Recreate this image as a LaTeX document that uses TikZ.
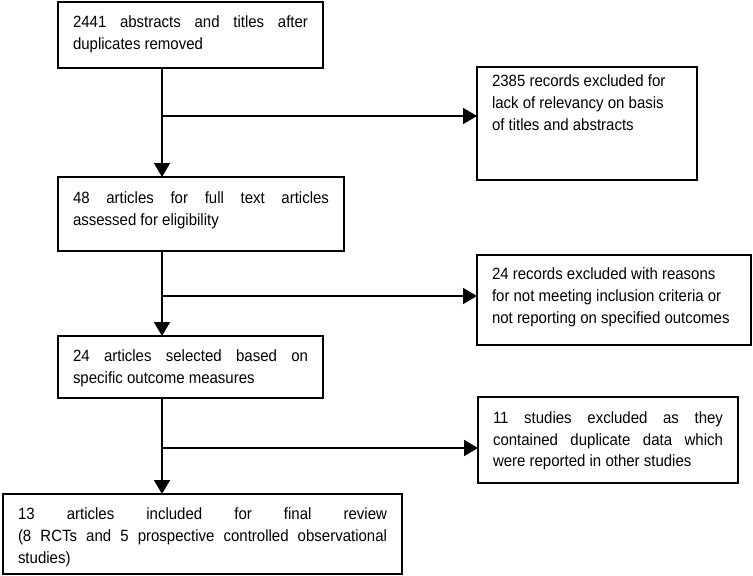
\documentclass[tikz,border=0pt]{standalone}
\usepackage{fontspec}
\setmainfont{Liberation Sans}[FakeStretch=0.92]
\usetikzlibrary{arrows.meta}
% text block of fixed height, set from its top
\newcommand{\flowtext}[4]{\parbox[b][#1][t]{#2}{\vspace*{#3}#4}}
\begin{document}
\begin{tikzpicture}[x=1pt, y=-1pt,
  every node/.style={font=\fontsize{16.3}{21.7}\selectfont},
  stage/.style={draw=black, line width=1.6pt, rectangle, anchor=north west,
    inner xsep=15pt, inner ysep=0pt, outer sep=0pt},
  flow/.style={draw=black, line width=1.6pt, -{Triangle[length=14pt, width=16pt]}}]
\useasboundingbox (0,0) rectangle (753,576);
% main column
\node[stage] (abstracts) at (58,2)
  {\flowtext{66pt}{235pt}{13.5pt}{2441 abstracts and titles after\linebreak duplicates removed}};
\node[stage] (fulltext) at (58,177)
  {\flowtext{74pt}{256pt}{14.5pt}{48 articles for full text articles\linebreak assessed for eligibility}};
\node[stage] (selected) at (58,336)
  {\flowtext{62pt}{235pt}{13.5pt}{24 articles selected based on\linebreak specific outcome measures}};
\node[stage] (included) at (3,494)
  {\flowtext{80pt}{369pt}{14pt}{13 articles included for final review\linebreak (8 RCTs and 5 prospective controlled observational\linebreak studies)}};
% exclusions
\node[stage] (norelevancy) at (477,67)
  {\flowtext{113pt}{190pt}{8pt}{\raggedright 2385 records excluded for\\ lack of relevancy on basis\\ of titles and abstracts}};
\node[stage] (nocriteria) at (477,255)
  {\flowtext{90pt}{244pt}{13pt}{\raggedright 24 records excluded with reasons\\ for not meeting inclusion criteria or\\ not reporting on specified outcomes}};
\node[stage] (duplicates) at (478,397)
  {\flowtext{86pt}{230pt}{14.5pt}{11 studies excluded as they\linebreak contained duplicate data which\linebreak were reported in other studies}};
% spine and branches
\coordinate (spine) at (162,0);
\coordinate (split1) at (162,116);
\coordinate (split2) at (162,296);
\coordinate (split3) at (162,448);
\draw[flow] (abstracts.south -| spine) -- (fulltext.north -| spine);
\draw[flow] (fulltext.south -| spine) -- (selected.north -| spine);
\draw[flow] (selected.south -| spine) -- (included.north -| spine);
\draw[flow] (split1) -- (split1 -| norelevancy.west);
\draw[flow] (split2) -- (split2 -| nocriteria.west);
\draw[flow] (split3) -- (split3 -| duplicates.west);
\end{tikzpicture}
\end{document}
